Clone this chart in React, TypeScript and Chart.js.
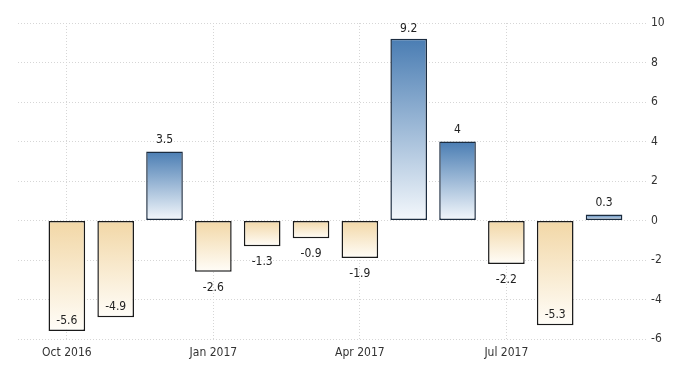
import React, { useEffect, useRef } from "react";
import { Chart, registerables } from "chart.js";

Chart.register(...registerables);

const categories = [
  "Oct 2016", "Nov 2016", "Dec 2016", "Jan 2017", "Feb 2017", "Mar 2017",
  "Apr 2017", "May 2017", "Jun 2017", "Jul 2017", "Aug 2017", "Sep 2017",
];
const values = [-5.6, -4.9, 3.5, -2.6, -1.3, -0.9, -1.9, 9.2, 4, -2.2, -5.3, 0.3];
const labelledMonths = ["Oct 2016", "Jan 2017", "Apr 2017", "Jul 2017"];
const yTicks = [-6, -4, -2, 0, 2, 4, 6, 8, 10];

const FONT = '"Liberation Sans Narrow", "DejaVu Sans Condensed", Arial, sans-serif';

const valueLabels = {
  id: "valueLabels",
  afterDatasetsDraw(chart: any) {
    const ctx = chart.ctx;
    const meta = chart.getDatasetMeta(0);
    const area = chart.chartArea;
    ctx.save();
    ctx.font = `12px ${FONT}`;
    ctx.fillStyle = "#222";
    ctx.textAlign = "center";
    ctx.textBaseline = "middle";
    meta.data.forEach((bar: any, i: number) => {
      const v = values[i];
      const txt = String(v);
      let y: number;
      if (v >= 0) {
        y = Math.max(bar.y - 12, area.top + 6);
      } else {
        y = bar.y + 16;
        if (y + 6 > area.bottom) y = bar.y - 10;
      }
      ctx.fillText(txt, bar.x, y);
    });
    ctx.restore();
  },
};

export default function App() {
  const ref = useRef<HTMLCanvasElement | null>(null);
  useEffect(() => {
    if (!ref.current) return;
    const tickPositions = labelledMonths.map((m) => categories.indexOf(m));
    const chart = new Chart(ref.current, {
      type: "bar",
      data: {
        datasets: [
          {
            data: values.map((v, i) => ({ x: i, y: v })),
            backgroundColor: (c: any) => {
              const ch = c.chart;
              const ys = ch.scales.y;
              const raw = c.raw;
              if (!ys || !raw) return "#ccc";
              const top = ys.getPixelForValue(raw.y);
              const zero = ys.getPixelForValue(0);
              if (!isFinite(top) || !isFinite(zero) || top === zero) return "#ccc";
              const g = ch.ctx.createLinearGradient(0, top, 0, zero);
              if (raw.y >= 0) {
                g.addColorStop(0, "#4a7db3");
                g.addColorStop(1, "#f4f8fc");
              } else {
                g.addColorStop(0, "#fffdf8");
                g.addColorStop(1, "#f2d7a6");
              }
              return g;
            },
            borderColor: (c: any) => (c.raw && c.raw.y >= 0 ? "#1b2c40" : "#1a1a1a"),
            borderWidth: 1.5,
            borderSkipped: false,
            barPercentage: 0.75,
            categoryPercentage: 1,
          },
        ],
      },
      options: {
        animation: false,
        responsive: false,
        layout: { padding: { left: 18, top: 23, right: 0, bottom: 0 } },
        plugins: { legend: { display: false }, tooltip: { enabled: false } },
        scales: {
          x: {
            type: "linear",
            min: -1,
            max: 11.9,
            offset: false,
            afterBuildTicks: (axis: any) => {
              axis.ticks = tickPositions.map((v) => ({ value: v }));
            },
            afterFit: (axis: any) => {
              axis.height = 36;
            },
            ticks: {
              callback: (v: any) => categories[v] ?? "",
              font: { family: FONT, size: 12 },
              color: "#333",
              padding: 7,
              maxRotation: 0,
              autoSkip: false,
            },
            grid: {
              color: "#d6d6d6",
              drawTicks: false,
              offset: false,
            },
            border: { display: false, dash: [1, 2] },
          },
          y: {
            position: "right",
            min: -6,
            max: 10,
            afterBuildTicks: (axis: any) => {
              axis.ticks = yTicks.map((v) => ({ value: v }));
            },
            afterFit: (axis: any) => {
              axis.width = 52;
            },
            ticks: {
              font: { family: FONT, size: 12 },
              color: "#333",
              padding: 3,
            },
            grid: {
              color: "#d6d6d6",
              drawTicks: false,
            },
            border: { display: false, dash: [1, 2] },
          },
        },
      },
      plugins: [valueLabels],
    } as any);
    return () => chart.destroy();
  }, []);
  return (
    <div style={{ position: "fixed", left: 0, top: 0, width: 700, height: 375, background: "#fff" }}>
      <canvas ref={ref} width={700} height={375} />
    </div>
  );
}
